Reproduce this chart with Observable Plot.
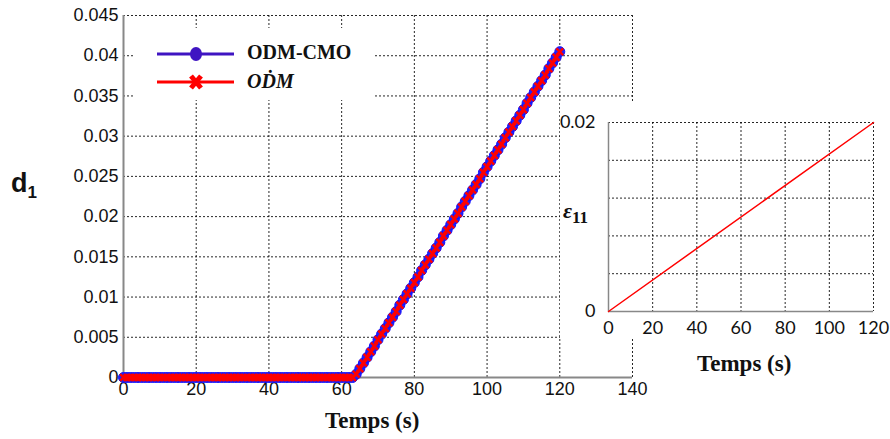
<!DOCTYPE html>
<html><head><meta charset="utf-8">
<script src="https://cdn.jsdelivr.net/npm/d3@7"></script>
<script src="https://cdn.jsdelivr.net/npm/@observablehq/plot@0.6"></script>
<style>
body{margin:0;background:#fff;}
#wrap{position:relative;width:890px;height:439px;overflow:hidden;background:#fff;}
#main{position:absolute;left:0;top:0;}
#cover{position:absolute;left:560px;top:103px;width:330px;height:235px;background:#fff;}
#inset{position:absolute;left:556px;top:103px;}
.lbl{position:absolute;white-space:nowrap;color:#111;}
.xlab{font-family:"Liberation Serif","Times New Roman",serif;font-weight:bold;font-size:23px;}
#legend{position:absolute;left:134px;top:28px;width:241px;height:72px;background:#fff;}
.legtxt{position:absolute;font-family:"Liberation Serif",serif;font-weight:bold;font-size:20px;color:#111;white-space:nowrap;}
</style>
</head><body>
<div id="wrap">
  <div id="main"></div>
  <div id="legend">
    <svg width="241" height="72" style="position:absolute;left:0;top:0">
      <line x1="23" x2="100" y1="26" y2="26" stroke="#3f14c2" stroke-width="3"/>
      <ellipse cx="62" cy="26" rx="6" ry="7" fill="#3f14c2"/>
      <line x1="23" x2="100" y1="54" y2="54" stroke="#ff0000" stroke-width="3"/>
      <path d="M57,48 L67,60 M67,48 L57,60" stroke="#ff0000" stroke-width="5"/>
    </svg>
    <div class="legtxt" style="left:113px;top:13px;">ODM-CMO</div>
    <div class="legtxt" style="left:113px;top:42px;font-style:italic;">OḊM</div>
  </div>
  <div id="cover"></div>
  <div id="inset"></div>
  <div class="lbl xlab" style="left:325px;top:408px;">Temps (s)</div>
  <div class="lbl xlab" style="left:697px;top:351px;">Temps (s)</div>
  <div class="lbl" style="left:11px;top:168px;font-family:'Liberation Sans',Arial,sans-serif;font-weight:bold;font-size:27px;">d<sub style="font-size:17px;vertical-align:-6px;">1</sub></div>
  <div class="lbl" style="left:563px;top:198px;font-family:'Liberation Serif',serif;font-weight:bold;font-size:22px;"><i>ε</i><sub style="font-size:17px;vertical-align:-5px;">11</sub></div>
</div>
<script>
// Main chart data (time in s, displacement d1)
const time = [0,1,2,3,4,5,6,7,8,9,10,11,12,13,14,15,16,17,18,19,20,21,22,23,24,25,26,27,28,29,30,31,32,33,34,35,36,37,38,39,40,41,42,43,44,45,46,47,48,49,50,51,52,53,54,55,56,57,58,59,60,61,62,63,64,65,66,67,68,69,70,71,72,73,74,75,76,77,78,79,80,81,82,83,84,85,86,87,88,89,90,91,92,93,94,95,96,97,98,99,100,101,102,103,104,105,106,107,108,109,110,111,112,113,114,115,116,117,118,119,120];
const odmCmo = [0,0,0,0,0,0,0,0,0,0,0,0,0,0,0,0,0,0,0,0,0,0,0,0,0,0,0,0,0,0,0,0,0,0,0,0,0,0,0,0,0,0,0,0,0,0,0,0,0,0,0,0,0,0,0,0,0,0,0,0,0,0,0,0,
  0.0004,0.0011,0.0018,0.0025,0.0032,0.0039,0.0047,0.0054,0.0061,0.0068,0.0075,0.0082,0.0090,0.0097,0.0104,0.0111,0.0118,0.0125,0.0133,0.0140,
  0.0147,0.0154,0.0161,0.0168,0.0176,0.0183,0.0190,0.0197,0.0204,0.0212,0.0219,0.0226,0.0233,0.0240,0.0247,0.0255,0.0262,0.0269,0.0276,0.0283,
  0.0290,0.0298,0.0305,0.0312,0.0319,0.0326,0.0333,0.0341,0.0348,0.0355,0.0362,0.0369,0.0376,0.0384,0.0391,0.0398,0.0405];
const odm = [0,0,0,0,0,0,0,0,0,0,0,0,0,0,0,0,0,0,0,0,0,0,0,0,0,0,0,0,0,0,0,0,0,0,0,0,0,0,0,0,0,0,0,0,0,0,0,0,0,0,0,0,0,0,0,0,0,0,0,0,0,0,0,0,
  0.0004,0.0011,0.0018,0.0025,0.0032,0.0039,0.0047,0.0054,0.0061,0.0068,0.0075,0.0082,0.0090,0.0097,0.0104,0.0111,0.0118,0.0125,0.0133,0.0140,
  0.0147,0.0154,0.0161,0.0168,0.0176,0.0183,0.0190,0.0197,0.0204,0.0212,0.0219,0.0226,0.0233,0.0240,0.0247,0.0255,0.0262,0.0269,0.0276,0.0283,
  0.0290,0.0298,0.0305,0.0312,0.0319,0.0326,0.0333,0.0341,0.0348,0.0355,0.0362,0.0369,0.0376,0.0384,0.0391,0.0398,0.0405];
const mainXTicks = [0,20,40,60,80,100,120,140];
const mainYTicks = [0,0.005,0.01,0.015,0.02,0.025,0.03,0.035,0.04,0.045];
const mainYLabels = ["0","0.005","0.01","0.015","0.02","0.025","0.03","0.035","0.04","0.045"];

// Inset data (strain epsilon_11)
const insetTime = [0,120];
const eps11 = [0,0.02];
const insetXTicks = [0,20,40,60,80,100,120];
const insetYGrid = [0,0.004,0.008,0.012,0.016,0.02];
const insetYTicks = [0,0.02];
const insetYLabels = ["0","0.02"];

const seriesA = time.map((t,i)=>({t, v: odmCmo[i]}));
const seriesB = time.map((t,i)=>({t, v: odm[i]}));
const insetSeries = insetTime.map((t,i)=>({t, v: eps11[i]}));

const dash = {stroke:"#000", strokeOpacity:0.85, strokeWidth:1, strokeDasharray:"2,2"};

const main = Plot.plot({
  width:890, height:439,
  marginLeft:123, marginRight:258, marginTop:15, marginBottom:62,
  x:{domain:[0,140]},
  y:{domain:[0,0.045]},
  style:{fontFamily:"'Liberation Sans', Arial, sans-serif", fontSize:"18px", color:"#111", background:"transparent"},
  marks:[
    Plot.gridX(mainXTicks, dash),
    Plot.gridY(mainYTicks, dash),
    Plot.ruleX([0], {stroke:"#888", strokeWidth:2}),
    Plot.ruleY([0], {stroke:"#888", strokeWidth:2}),
    Plot.axisX(mainXTicks, {tickSize:0, tickPadding:5, label:null, fill:"#111", fontSize:18}),
    Plot.axisY(mainYTicks, {tickSize:0, tickPadding:5, label:null, fill:"#111", fontSize:18,
      tickFormat: d => mainYLabels[mainYTicks.indexOf(d)]}),
    Plot.line(seriesA, {x:"t", y:"v", stroke:"#1a1aff", strokeWidth:2}),
    Plot.dot(seriesA, {x:"t", y:"v", r:5, fill:"#2222f5", stroke:"#1010ff", strokeWidth:1}),
    Plot.line(seriesB, {x:"t", y:"v", stroke:"#ff0000", strokeWidth:3}),
    Plot.dot(seriesB, {x:"t", y:"v", symbol:"times", r:3.2, stroke:"#ff0000", strokeWidth:2.5})
  ]
});
document.getElementById("main").appendChild(main);

const inset = Plot.plot({
  width:334, height:280,
  marginLeft:52, marginRight:17, marginTop:19, marginBottom:72,
  x:{domain:[0,120]},
  y:{domain:[0,0.02]},
  style:{fontFamily:"Lato, 'Open Sans', sans-serif", fontSize:"18px", color:"#111", background:"transparent"},
  marks:[
    Plot.gridX(insetXTicks, dash),
    Plot.gridY(insetYGrid, dash),
    Plot.ruleX([0], {stroke:"#888", strokeWidth:1.5}),
    Plot.ruleY([0], {stroke:"#888", strokeWidth:1.5}),
    Plot.axisX(insetXTicks, {tickSize:0, tickPadding:10, label:null, fill:"#111", fontSize:18}),
    Plot.axisY(insetYTicks, {tickSize:0, tickPadding:13, label:null, fill:"#111", fontSize:18,
      tickFormat: d => insetYLabels[insetYTicks.indexOf(d)]}),
    Plot.line(insetSeries, {x:"t", y:"v", stroke:"#ff0000", strokeWidth:1.5})
  ]
});
document.getElementById("inset").appendChild(inset);
</script>
</body></html>
